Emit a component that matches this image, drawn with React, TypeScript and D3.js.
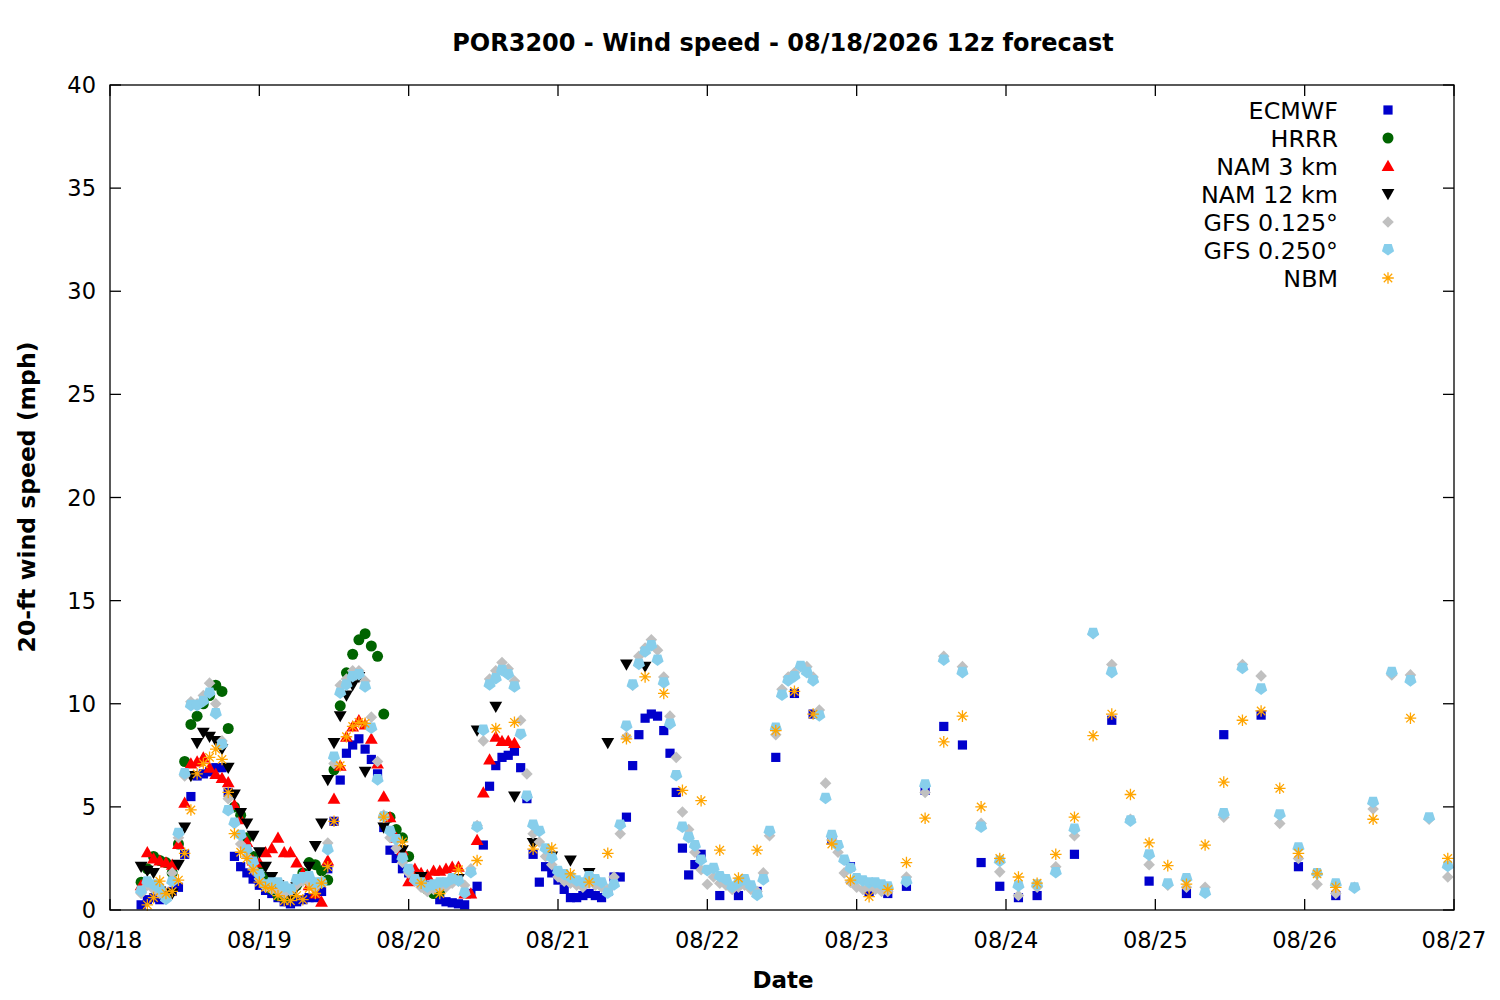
import React from 'react';
import * as d3 from 'd3';

// hours since 08/18 00:00 local; 12z run = hour 5
const ecmwfHourly = [
  0.25, 0.5, 0.6, 0.5, 0.7, 0.9, 1.1, 2.7, 5.5, 6.5,
  6.6, 6.7, 6.9, 6.9, 5.7, 2.6, 2.1, 1.8, 1.5, 1.2,
  0.95, 0.8, 0.6, 0.4, 0.3, 0.4, 0.5, 0.6, 0.6, 0.9,
  2.0, 4.3, 6.3, 7.6, 8.0, 8.3, 7.8, 7.3, 6.6, 4.0,
  2.9, 2.5, 2.0, 1.8, 1.6, 1.4, 1.2, 0.9, 0.5, 0.4,
  0.35, 0.3, 0.25, 0.8, 1.15, 3.15, 6.0, 7.0, 7.4, 7.5,
  7.7, 6.9, 5.4, 2.7, 1.35, 2.1, 1.8, 1.45, 1.0, 0.6,
  0.6, 0.7, 0.8, 0.7, 0.6, 0.9, 1.6, 1.6, 4.5, 7.0,
  8.5, 9.3, 9.5, 9.4, 8.7, 7.6, 5.7, 3.0, 1.7, 2.2,
  2.7,
];
const ecmwf3h = [0.7, 0.7, 0.9, 7.4, 10.5, 9.5, 3.4, 2.1, 0.9, 0.8, 1.15, 5.8, 8.9, 8.0, 2.3, 1.15, 0.6, 0.7];
const ecmwf6h = [2.7, 9.2, 1.4, 0.8, 8.5, 9.45, 2.1, 0.7];

const hrrrHourly = [
  1.35, 2.0, 2.6, 2.4, 2.3, 1.8, 3.2, 7.2, 9.0, 9.4,
  10.0, 10.4, 10.9, 10.6, 8.8, 5.0, 4.6, 3.5, 2.6, 2.0,
  1.6, 1.0, 0.7, 0.6, 0.7, 1.2, 1.8, 2.3, 2.2, 1.9,
  1.45, 6.8, 9.9, 11.5, 12.4, 13.1, 13.4, 12.8, 12.3, 9.5,
  4.5, 3.9, 3.5, 2.6, 1.8, 1.4, 1.0, 0.8, 0.9,
];

const nam3Hourly = [
  1.2, 2.8, 2.5, 2.4, 2.3, 2.2, 3.2, 5.2, 7.1, 7.2,
  7.4, 6.9, 6.6, 6.4, 6.2, 5.1, 4.4, 3.3, 2.4, 2.3,
  2.8, 3.0, 3.5, 2.8, 2.8, 2.3, 1.8, 1.2, 0.8, 0.4,
  2.4, 5.4, 7.0, 8.4, 8.9, 9.2, 9.0, 8.3, 7.1, 5.5,
  4.5, 3.5, 2.9, 1.4, 2.0, 1.8, 1.7, 1.9, 1.9, 2.0,
  2.1, 2.1, 0.8, 0.8, 3.4, 5.7, 7.3, 8.4, 8.2, 8.2,
  8.1,
];

const nam12Hourly = [
  2.1, 1.9, 1.8, 0.9, 0.6, 0.8, 2.2, 4.0, 6.5, 8.1,
  8.6, 8.4, 8.2, 7.8, 6.9, 5.6, 4.7, 4.2, 3.6, 2.8,
  2.1, 1.6, 1.2, 0.9, 0.7, 1.1, 1.5, 2.1, 3.1, 4.2,
  6.3, 8.1, 9.4, 10.4, 10.9, 11.3, 6.7,
];
const nam12_3h = [4.0, 2.9, 1.6, 1.2, 1.5, 8.7, 9.85, 5.5, 3.25, 2.6, 2.4, 1.8, 8.1, 11.9, 11.8];

const gfs125Hourly = [
  0.8, 1.2, 1.0, 0.8, 0.6, 1.8, 3.5, 6.5, 10.1, 10.0,
  10.4, 11.0, 10.0, 8.2, 5.4, 4.2, 3.2, 2.6, 2.0, 1.5,
  1.1, 1.0, 0.9, 0.8, 0.9, 1.2, 1.4, 1.3, 1.1, 1.4,
  3.25, 7.1, 10.9, 11.2, 11.6, 11.6, 11.1, 9.35, 7.2, 4.6,
  3.5, 3.0, 2.3, 1.8, 1.4, 1.1, 0.9, 1.0, 1.1, 1.1,
  1.3, 1.4, 1.2, 2.0, 4.1, 8.2, 11.2, 11.6, 12.0, 11.7,
  11.1, 9.2, 6.6, 3.7, 3.3, 2.6, 2.2, 1.6, 1.4, 1.3,
  1.2, 1.1, 1.3, 1.2, 1.1, 1.0, 1.6, 3.7, 8.4, 10.9,
  12.3, 12.7, 13.1, 12.6, 11.3, 9.4, 7.4, 4.75, 3.9, 2.8,
  1.95, 1.25, 1.6, 1.3, 1.2, 1.0, 1.1, 1.2, 1.0, 0.9,
  1.8, 3.6, 8.5, 10.7, 11.3, 11.5, 11.8, 11.8, 11.3, 9.7,
  6.15, 3.4, 2.8, 1.8, 1.35, 1.1, 1.0, 1.1, 1.0, 0.9,
  0.9,
];
const gfs125_3h = [
  1.6, 5.7, 12.3, 11.8, 4.2, 1.85, 0.7, 1.1, 2.1, 3.6,
  13.4, 11.9, 4.4, 2.2, 1.2, 1.1, 1.1, 4.5, 11.9, 11.35,
  4.2, 2.5, 1.25, 0.8, 1.1, 4.9, 11.4, 11.4, 4.4, 1.6,
];

const gfs250Hourly = [
  0.9, 1.35, 1.2, 1.0, 0.5, 1.35, 3.7, 6.6, 9.9, 9.9,
  10.1, 10.5, 9.5, 8.0, 4.8, 4.2, 3.6, 2.9, 2.3, 1.7,
  1.2, 1.3, 1.3, 1.1, 1.0, 1.45, 1.55, 1.6, 1.3, 1.3,
  2.9, 7.4, 10.5, 10.9, 11.3, 11.4, 10.8, 8.8, 6.3, 4.5,
  3.8, 3.4, 2.5, 1.95, 1.45, 1.3, 1.1, 1.2, 1.3, 1.3,
  1.5, 1.4, 0.8, 1.8, 4.0, 8.7, 10.9, 11.2, 11.6, 11.4,
  10.8, 8.5, 5.5, 4.1, 3.8, 2.95, 2.5, 1.85, 1.7, 1.55,
  1.4, 1.3, 1.6, 1.45, 1.3, 0.8, 1.2, 4.1, 8.9, 10.9,
  11.9, 12.5, 12.8, 12.1, 11.0, 9.0, 6.5, 4.0, 3.5, 3.1,
  2.4, 1.9, 2.0, 1.6, 1.45, 1.1, 1.3, 1.45, 1.15, 0.7,
  1.45, 3.8, 8.8, 10.4, 11.1, 11.3, 11.8, 11.5, 11.1, 9.4,
  5.4, 3.6, 3.1, 2.4, 2.0, 1.5, 1.4, 1.3, 1.3, 1.2,
  1.1,
];
const gfs250_3h = [
  1.35, 6.05, 12.1, 11.5, 4.0, 2.35, 1.15, 1.2, 1.8, 3.9,
  13.4, 11.5, 4.3, 2.65, 1.25, 1.5, 0.8, 4.65, 11.7, 10.7,
  4.6, 3.0, 1.75, 1.25, 1.05, 5.2, 11.5, 11.1, 4.45, 2.1,
];

const nbmHourly = [
  0.25, 0.6, 1.4, 0.8, 0.9, 1.45, 2.75, 4.85, 6.6, 7.1,
  7.4, 7.8, 7.3, 5.7, 3.7, 2.8, 2.5, 1.95, 1.35, 1.1,
  1.05, 0.7, 0.45, 0.45, 0.7, 0.5, 1.05, 0.8, 1.3, 2.1,
  4.3, 7.0, 8.4, 8.9, 9.1, 9.05,
];
const nbm3h = [
  4.5, 3.3, 1.3, 0.8, 1.95, 2.4, 8.8, 9.1, 2.95, 3.0,
  1.75, 1.35, 2.75, 8.3, 11.3, 10.5, 5.8, 5.3, 2.9, 1.55,
  2.9, 8.7, 10.6, 9.5, 3.2, 1.45, 0.65, 1.0, 2.3, 4.45,
  8.15, 9.4, 5.0, 2.5, 1.6, 1.3, 2.7, 4.5, 8.45, 9.5,
  5.6, 3.25, 2.15, 1.25, 3.15, 6.2, 9.2, 9.65, 5.9, 2.75,
  1.75, 1.1,
];
const nbm6h = [4.4, 9.3, 2.5];

const yTicks = [0, 5, 10, 15, 20, 25, 30, 35, 40];

type Pt = { h: number; v: number };
const seg = (start: number, step: number, values: number[]): Pt[] =>
  values.map((v, i) => ({ h: start + i * step, v }));

const series = [
  { name: 'ECMWF', shape: 'square', color: '#0000cc', pts: [...seg(5, 1, ecmwfHourly), ...seg(98, 3, ecmwf3h), ...seg(155, 6, ecmwf6h)] },
  { name: 'HRRR', shape: 'circle', color: '#006400', pts: seg(5, 1, hrrrHourly) },
  { name: 'NAM 3 km', shape: 'triup', color: '#ff0000', pts: seg(5, 1, nam3Hourly) },
  { name: 'NAM 12 km', shape: 'tridown', color: '#000000', pts: [...seg(5, 1, nam12Hourly), ...seg(44, 3, nam12_3h)] },
  { name: 'GFS 0.125°', shape: 'diamond', color: '#c0c0c0', pts: [...seg(5, 1, gfs125Hourly), ...seg(128, 3, gfs125_3h)] },
  { name: 'GFS 0.250°', shape: 'pentagon', color: '#87ceeb', pts: [...seg(5, 1, gfs250Hourly), ...seg(128, 3, gfs250_3h)] },
  { name: 'NBM', shape: 'asterisk', color: '#ffa500', pts: [...seg(6, 1, nbmHourly), ...seg(44, 3, nbm3h), ...seg(203, 6, nbm6h)] },
];

// flat-topped pentagon, point down
const pentagonPath = (() => {
  const r = 6.4;
  const p = d3.path();
  for (let i = 0; i < 5; i++) {
    const a = Math.PI / 2 + (i * 2 * Math.PI) / 5;
    const x = r * Math.cos(a);
    const y = r * Math.sin(a) - 0.8;
    if (i === 0) p.moveTo(x, y);
    else p.lineTo(x, y);
  }
  p.closePath();
  return p.toString();
})();

const Marker = ({ shape, color, x, y }: { shape: string; color: string; x: number; y: number }) => {
  const t = `translate(${x},${y})`;
  switch (shape) {
    case 'square':
      return <rect x={x - 4.6} y={y - 4.6} width={9.2} height={9.2} fill={color} />;
    case 'circle':
      return <circle cx={x} cy={y} r={5.5} fill={color} />;
    case 'triup':
      return <path transform={t} d="M0,-6.2 L6.4,5 L-6.4,5 Z" fill={color} />;
    case 'tridown':
      return <path transform={t} d="M0,6.2 L6.4,-5 L-6.4,-5 Z" fill={color} />;
    case 'diamond':
      return <path transform={t} d="M0,-5.8 L5.8,0 L0,5.8 L-5.8,0 Z" fill={color} />;
    case 'pentagon':
      return <path transform={t} d={pentagonPath} fill={color} />;
    default:
      return (
        <path
          transform={t}
          d="M-5.8,0 H5.8 M0,-5.8 V5.8 M-4.2,-4.2 L4.2,4.2 M-4.2,4.2 L4.2,-4.2"
          stroke={color}
          strokeWidth={1.3}
          fill="none"
        />
      );
  }
};

const W = 1500;
const H = 1000;
const left = 110;
const right = 1454;
const top = 85;
const bottom = 910;
const font = 'DejaVu Sans';

export default function App() {
  const base = new Date(2026, 7, 18);
  const end = new Date(2026, 7, 27);
  const toDate = (h: number) => new Date(base.getTime() + h * 3600 * 1000);

  const x = d3.scaleTime().domain([base, end]).range([left, right]);
  const y = d3.scaleLinear().domain([0, 40]).range([bottom, top]);
  const xTicks = x.ticks(d3.timeDay.every(1)!);
  const fmt = d3.timeFormat('%m/%d');
  const tl = 11;

  return (
    <svg width={W} height={H} style={{ position: 'absolute', left: 0, top: 0, background: '#fff' }} fontFamily={font}>
      <rect x={0} y={0} width={W} height={H} fill="#fff" />
      <text x={783} y={51} textAnchor="middle" fontSize={24} fontWeight="bold">
        POR3200 - Wind speed - 08/18/2026 12z forecast
      </text>

      {/* points */}
      {series.map((s) => (
        <g key={s.name}>
          {s.pts.map((p, i) => (
            <Marker key={i} shape={s.shape} color={s.color} x={x(toDate(p.h))} y={y(p.v)} />
          ))}
        </g>
      ))}

      {/* frame + ticks */}
      <rect x={left} y={top} width={right - left} height={bottom - top} fill="none" stroke="#000" strokeWidth={1.3} />
      {yTicks.map((t) => (
        <g key={'y' + t}>
          <line x1={left} x2={left + tl} y1={y(t)} y2={y(t)} stroke="#000" strokeWidth={1.3} />
          <line x1={right} x2={right - tl} y1={y(t)} y2={y(t)} stroke="#000" strokeWidth={1.3} />
          <text x={96} y={y(t)} dy="0.36em" textAnchor="end" fontSize={22.5}>
            {t}
          </text>
        </g>
      ))}
      {xTicks.map((d, i) => (
        <g key={'x' + i}>
          <line x1={x(d)} x2={x(d)} y1={bottom} y2={bottom - tl} stroke="#000" strokeWidth={1.3} />
          <line x1={x(d)} x2={x(d)} y1={top} y2={top + tl} stroke="#000" strokeWidth={1.3} />
          <text x={x(d)} y={948} textAnchor="middle" fontSize={22.5}>
            {fmt(d)}
          </text>
        </g>
      ))}

      <text x={783} y={988} textAnchor="middle" fontSize={23} fontWeight="bold">
        Date
      </text>
      <text transform="translate(35,497) rotate(-90)" textAnchor="middle" fontSize={23.5} fontWeight="bold">
        20-ft wind speed (mph)
      </text>

      {/* legend */}
      {series.map((s, i) => {
        const ly = 110 + i * 28;
        return (
          <g key={'l' + s.name}>
            <text x={1338} y={ly} dy="0.36em" textAnchor="end" fontSize={23.8}>
              {s.name}
            </text>
            <Marker shape={s.shape} color={s.color} x={1388} y={ly} />
          </g>
        );
      })}
    </svg>
  );
}
